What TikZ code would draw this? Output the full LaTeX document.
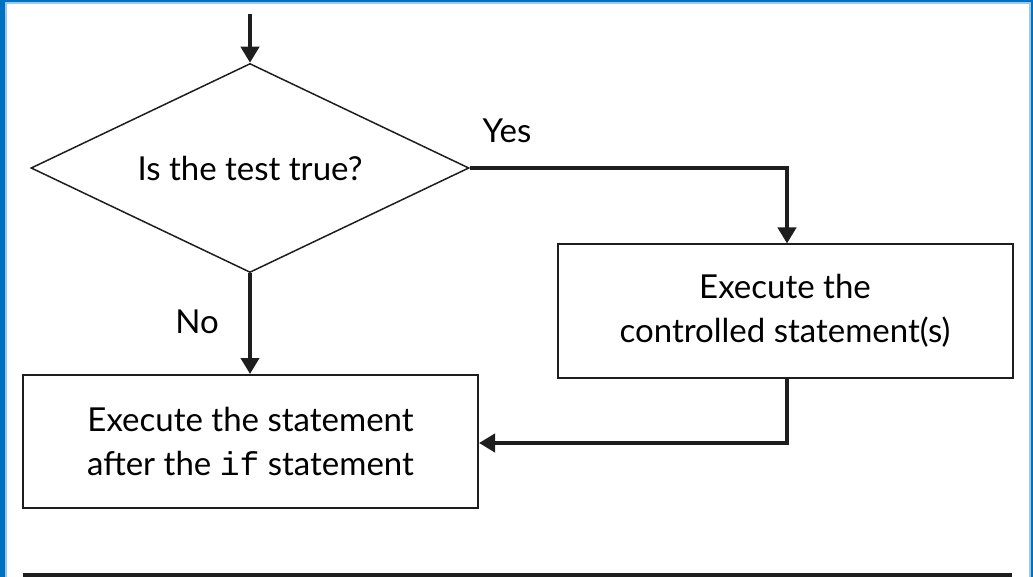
\documentclass[tikz,border=0pt]{standalone}
\usepackage{fontspec}
\setmainfont{Lato}
\setmonofont{Liberation Mono}
\usetikzlibrary{shapes.geometric,arrows.meta}
\definecolor{frameblue}{RGB}{0,112,192}
\definecolor{framelight}{RGB}{160,200,235}
\definecolor{ink}{RGB}{30,30,30}
\tikzset{
  box/.style={draw=ink, line width=2pt, minimum width=455pt, minimum height=133pt, inner sep=0pt, align=center, font=\fontsize{33}{44}\selectfont},
  decision/.style={diamond, aspect=2.096, draw=ink, line width=1.5pt, minimum width=438pt, minimum height=209pt, inner sep=0pt, font=\fontsize{33}{40}\selectfont},
  flow/.style={draw=ink, line width=4pt, -{Triangle[length=16pt,width=18pt]}},
  lbl/.style={font=\fontsize{33}{40}\selectfont, inner sep=0pt}
}
\begin{document}
\begin{tikzpicture}[x=1pt,y=-1pt]
\useasboundingbox (0,0) rectangle (1033,577);
% frame
\fill[framelight] (0,0) rectangle (1033,4);
\fill[framelight] (0,0) rectangle (7,577);
\fill[framelight] (1029,0) rectangle (1033,577);
\fill[frameblue] (0,0) rectangle (1033,2.5);
\fill[frameblue] (0,0) rectangle (5,577);
\fill[frameblue] (1030.5,0) rectangle (1033,577);
\fill[ink] (23,572.5) rectangle (1012,577);
% nodes
\coordinate (start) at (250,14);
\node[decision] (test) at (250,168) {Is the test true?};
\node[box] (ctrl) at (785,311) {Execute the\\controlled statement(s)};
\node[box] (after) at (250.5,441.5) {Execute the statement\\after the \texttt{if} statement};
\coordinate (colx) at (787,0);
\coordinate (c1) at (test.east -| colx);
\coordinate (c2) at (787,443);
% connectors
\draw[flow] (start) -- (test.north);
\draw[flow] (test.east) -- (c1) -- (c1 |- ctrl.north);
\draw[flow] (test.south) -- (test.south |- after.north);
\draw[flow] (c1 |- ctrl.south) -- (c2) -- (after.east |- c2);
% labels
\node[lbl] (yes) at (507,131) {Yes};
\node[lbl] (no) at (197,322) {No};
\end{tikzpicture}
\end{document}
